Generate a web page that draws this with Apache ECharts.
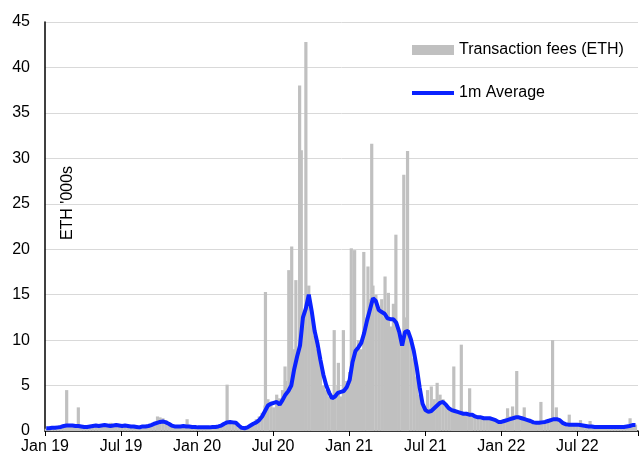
<!DOCTYPE html>
<html><head><meta charset="utf-8">
<script src="https://cdn.jsdelivr.net/npm/echarts@6/dist/echarts.min.js"></script>
<style>html,body{margin:0;padding:0;background:#fff}#c{width:641px;height:463px}</style>
</head><body><div id="c"></div>
<script>
// Weekly series starting 2019-01-01 (one value per week)
const START = '2019-01-01';
const weeklyFees = [
 0.25,0.3,0.3,0.35,0.35,0.4,
 0.5,0.55,0.5,0.6,0.5,0.5,0.45,
 0.4,0.45,0.5,0.5,0.6,0.5,0.55,0.7,0.55,0.5,0.6,0.65,0.55,
 0.5,0.6,0.5,0.45,0.5,0.4,0.4,0.5,
 0.5,0.6,0.7,0.9,1.1,1.5,1.4,1.2,0.8,0.6,0.5,
 0.5,0.5,0.6,0.5,0.5,0.45,0.4,
 0.4,0.4,0.4,0.4,0.4,0.45,0.5,
 0.5,0.7,0.9,1.1,1.0,0.9,0.8,
 0.5,0.35,0.3,
 0.5,0.7,0.9,1.3,1.6,2.0,2.8,3.5,3.0,2.6,4.0,3.6,4.5,5.5,4.8,6.5,9.0,8.0,11.0,13.0,11.5,16.0,13.0,10.5,9.0,7.5,5.0,4.5,3.8,3.5,4.2,5.0,3.8,5.2,5.5,6.5,
 9.0,8.5,10.0,9.0,11.5,12.5,14.5,16.0,15.0,13.5,14.5,12.5,13.0,11.5,14.0,12.0,10.5,9.5,12.5,11.0,10.0,8.0,6.0,4.0,2.8,2.2,2.5,3.0,3.5,3.0,4.0,3.5,3.0,2.6,2.4,2.0,2.2,2.0,1.8,2.1,1.7,1.9,1.5,1.6,1.4,1.5,1.3,1.5,1.2,1.3,1.0,1.1,
 1.3,1.5,1.6,1.8,1.7,1.5,1.6,1.3,1.2,1.0,0.9,0.8,0.9,1.0,1.1,1.2,1.4,1.5,1.4,1.2,0.8,0.7,0.6,0.6,0.7,0.6,0.6,0.5,0.5,0.45,0.45,0.4,0.4,0.4,0.4,0.4,0.4,0.4,0.4,0.4,0.45,0.45,0.5,0.6,0.8,0.7
];
const monthAvg = [
 0.3,0.3,0.35,0.35,0.4,0.45,
 0.55,0.6,0.6,0.6,0.55,0.55,0.5,
 0.45,0.45,0.5,0.55,0.6,0.55,0.6,0.65,0.6,0.55,0.6,0.65,0.6,
 0.55,0.6,0.55,0.5,0.5,0.45,0.4,0.5,
 0.5,0.55,0.65,0.8,0.9,1.0,1.05,0.95,0.8,0.6,0.5,
 0.5,0.5,0.55,0.5,0.5,0.45,0.45,
 0.4,0.4,0.4,0.4,0.4,0.45,0.45,
 0.5,0.6,0.8,0.95,1.0,0.95,0.9,
 0.6,0.35,0.3,
 0.4,0.6,0.8,0.95,1.2,1.6,2.2,2.8,3.0,3.1,3.2,2.9,3.4,4.0,4.4,5.0,6.8,8.2,9.4,12.5,13.5,15.0,13.2,11.0,9.6,7.8,6.2,5.0,4.2,3.6,3.8,4.2,4.3,4.4,4.8,5.6,
 7.6,8.8,9.2,9.7,10.8,12.2,13.4,14.6,14.3,13.3,13.1,12.9,12.4,12.3,12.3,11.9,10.9,9.4,10.9,11.0,10.1,8.8,7.0,4.8,3.0,2.3,2.1,2.2,2.5,2.8,3.1,3.2,2.9,2.5,2.3,2.2,2.1,2.0,1.9,1.9,1.8,1.8,1.6,1.5,1.5,1.4,1.4,1.4,1.3,1.2,1.0,1.0,
 1.1,1.2,1.3,1.4,1.5,1.5,1.4,1.3,1.2,1.1,0.95,0.9,0.9,0.95,1.0,1.1,1.2,1.3,1.3,1.2,0.9,0.75,0.7,0.7,0.7,0.7,0.65,0.6,0.55,0.5,0.5,0.45,0.45,0.45,0.45,0.45,0.45,0.45,0.45,0.45,0.45,0.45,0.5,0.55,0.65,0.65
];
// Single-day fee spikes
const feeSpikes = [
 ['2019-02-22',4.5],['2019-03-22',2.6],['2019-06-08',0.9],['2019-09-28',1.6],['2019-12-08',1.3],
 ['2020-03-13',5.1],['2020-06-13',15.3],['2020-07-30',7.1],['2020-08-08',17.7],['2020-08-15',20.3],['2020-08-25',16.6],
 ['2020-09-03',38.0],['2020-09-07',30.9],['2020-09-18',42.8],['2020-11-25',11.1],['2020-12-05',7.5],['2020-12-17',11.1],
 ['2021-01-05',20.1],['2021-01-13',19.9],['2021-02-04',19.7],['2021-02-14',18.1],['2021-02-23',31.6],['2021-03-27',17.0],
 ['2021-04-04',15.2],['2021-04-22',21.6],['2021-05-11',28.2],['2021-05-20',30.8],
 ['2021-07-07',4.5],['2021-07-16',4.9],['2021-07-30',5.3],['2021-09-08',7.1],['2021-09-26',9.5],['2021-10-16',4.7],
 ['2022-01-15',2.5],['2022-01-27',2.7],['2022-02-06',6.6],['2022-02-24',2.6],['2022-04-05',3.2],['2022-05-03',10.0],
 ['2022-05-12',2.6],['2022-06-12',1.8],['2022-07-09',1.2],['2022-08-01',1.1],['2022-11-05',1.4]
];
const tickLabels = ['Jan 19','Jul 19','Jan 20','Jul 20','Jan 21','Jul 21','Jan 22','Jul 22'];
const yTickLabels = ['0','5','10','15','20','25','30','35','40','45'];

const DAY = 86400000;
const t0 = Date.parse(START + 'T00:00:00Z');
const dayIdx = s => Math.round((Date.parse(s + 'T00:00:00Z') - t0) / DAY);
const barData = weeklyFees.map((v, k) => [k * 7 + 3, v])
  .concat(feeSpikes.map(([d, v]) => [dayIdx(d), v]));
const lineData = monthAvg.map((v, k) => [k * 7 + 3, v]);
const HALF_YEAR = 182.5;
const FONT = "'Liberation Sans', Arial, sans-serif";

const chart = echarts.init(document.getElementById('c'), null, {renderer: 'canvas'});
chart.setOption({
  animation: false,
  textStyle: {fontFamily: FONT},
  grid: {left: 45, right: 0, top: 22, bottom: 32},
  xAxis: {
    type: 'value', min: 0, max: 1423, interval: HALF_YEAR,
    axisLine: {show: true, lineStyle: {color: '#000', width: 1.5}},
    axisTick: {show: true, length: 5, lineStyle: {color: '#000', width: 1}},
    splitLine: {show: false},
    axisLabel: {
      formatter: v => tickLabels[Math.round(v / HALF_YEAR)] || '',
      color: '#000', fontSize: 16, fontFamily: FONT, margin: 8
    }
  },
  yAxis: {
    type: 'value', min: 0, max: 45, interval: 5,
    axisLine: {show: true, lineStyle: {color: '#000', width: 1.5}},
    axisTick: {show: false},
    splitLine: {show: true, lineStyle: {color: '#d9d9d9', width: 1}},
    axisLabel: {
      formatter: v => yTickLabels[Math.round(v / 5)],
      color: '#000', fontSize: 16, fontFamily: FONT, margin: 15
    }
  },
  legend: [
    {data: ['Transaction fees (ETH)'], left: 412, top: 42, padding: 0, orient: 'vertical',
     itemWidth: 42, itemHeight: 10, icon: 'rect',
     textStyle: {color: '#000', fontSize: 16, fontFamily: FONT}},
    {data: ['1m Average'], left: 412, top: 85, padding: 0, orient: 'vertical',
     itemWidth: 42, itemHeight: 4, icon: 'rect',
     textStyle: {color: '#000', fontSize: 16, fontFamily: FONT}}
  ],
  graphic: [{
    type: 'text', x: 68, y: 203, rotation: Math.PI / 2,
    style: {text: "ETH '000s", fontSize: 16, fontFamily: FONT, fill: '#000', align: 'center', verticalAlign: 'middle'}
  }],
  series: [
    {name: 'Transaction fees (ETH)', type: 'bar', data: barData, barWidth: 3.2,
     itemStyle: {color: '#c0c0c0'}},
    {name: '1m Average', type: 'line', data: lineData, showSymbol: false, symbol: 'none',
     lineStyle: {color: '#0a22ff', width: 4}, itemStyle: {color: '#0a22ff'}, z: 5}
  ]
});
</script></body></html>
